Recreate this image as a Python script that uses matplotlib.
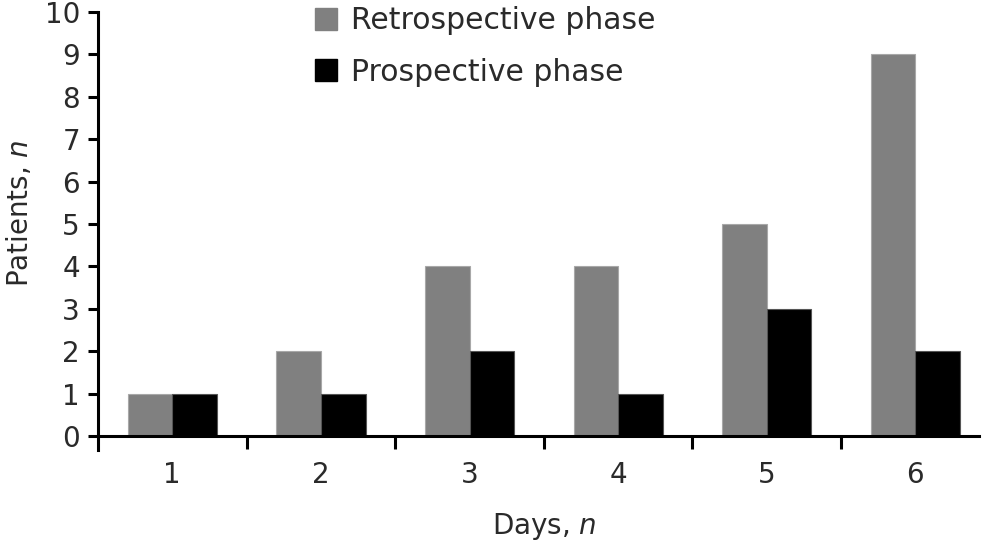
import numpy as np
import matplotlib.pyplot as plt
from matplotlib.patches import Patch

# Data
DAYS = ['1', '2', '3', '4', '5', '6']
RETROSPECTIVE = [1, 2, 4, 4, 5, 9]
PROSPECTIVE = [1, 1, 2, 1, 3, 2]

GREY = '#808080'
BLACK = '#000000'
TXT = '#2a2a2a'

plt.rcParams['font.family'] = ['DejaVu Sans']
plt.rcParams['mathtext.fontset'] = 'dejavusans'

fig = plt.figure(figsize=(9.86, 5.44), dpi=100)
ax = fig.add_axes([0.0994, 0.1728, 0.9043, 0.805])

x = np.arange(1, len(DAYS) + 1)
w = 0.3
ax.bar(x - w / 2, RETROSPECTIVE, width=w, color=GREY, edgecolor='#a8a8a8', linewidth=0.8)
ax.bar(x + w / 2, PROSPECTIVE, width=w, color=BLACK, edgecolor='#555555', linewidth=0.8)

ax.set_xlim(0.5, 6.5)
ax.set_ylim(-0.33, 10)

for s in ['top', 'right']:
    ax.spines[s].set_visible(False)
ax.spines['bottom'].set_position(('data', 0))
ax.spines['bottom'].set_bounds(0.5, 6.43)
ax.spines['left'].set_linewidth(2.2)
ax.spines['bottom'].set_linewidth(2.2)

ax.set_yticks(range(0, 11))
ax.tick_params(axis='y', length=7, width=2.2, pad=6, labelsize=20, labelcolor=TXT)
ax.set_xticks(x)
ax.set_xticklabels(DAYS)
ax.tick_params(axis='x', which='major', length=0, pad=18, labelsize=20, labelcolor=TXT)
ax.set_xticks(np.arange(1.5, 6.5, 1), minor=True)
ax.tick_params(axis='x', which='minor', length=9, width=2.2, direction='out')

ax.set_xlabel('Days, $\\it{n}$', fontsize=20, labelpad=16, color=TXT)
ax.set_ylabel('Patients, $\\it{n}$', fontsize=20, color=TXT)
ax.yaxis.set_label_coords(-0.072, 0.54)

handles = [Patch(facecolor=GREY, edgecolor=GREY), Patch(facecolor=BLACK, edgecolor=BLACK)]
fig.legend(handles, ['Retrospective phase', 'Prospective phase'],
           loc='upper left', bbox_to_anchor=(0.292, 1.038), frameon=False,
           fontsize=21.5, handlelength=0.75, handleheight=0.75, handletextpad=0.47,
           labelspacing=0.75, labelcolor=TXT)

fig.savefig('out.png', dpi=100)
